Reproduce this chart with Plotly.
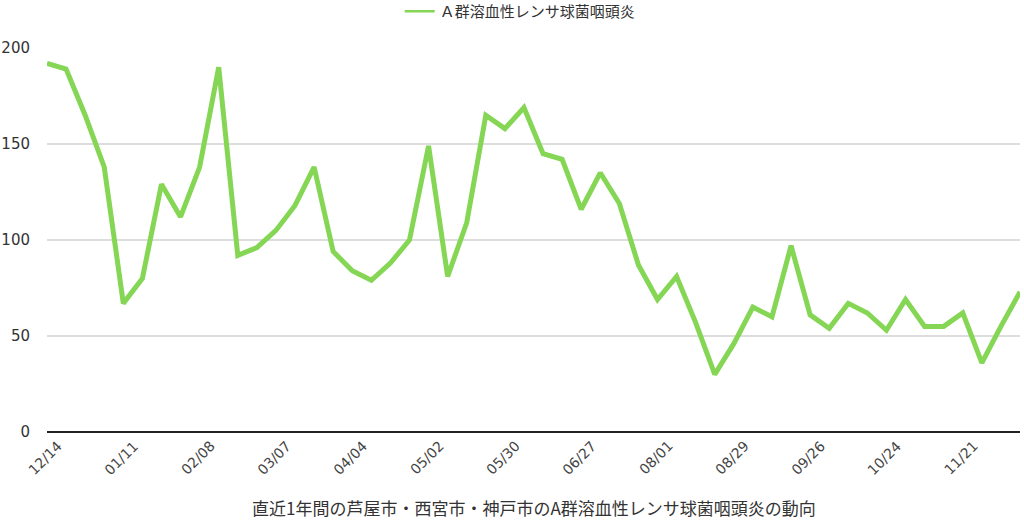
import plotly.graph_objects as go

weeks = ["12/14", "12/21", "12/28", "01/04", "01/11", "01/18", "01/25", "02/01",
         "02/08", "02/15", "02/22", "03/01", "03/07", "03/14", "03/21", "03/28",
         "04/04", "04/11", "04/18", "04/25", "05/02", "05/09", "05/16", "05/23",
         "05/30", "06/06", "06/13", "06/20", "06/27", "07/04", "07/11", "07/18",
         "08/01", "08/08", "08/15", "08/22", "08/29", "09/05", "09/12", "09/19",
         "09/26", "10/03", "10/10", "10/17", "10/24", "10/31", "11/07", "11/14",
         "11/21", "11/28", "12/05", "12/12"]

cases = [192, 189, 165, 138, 67, 80, 129, 112, 138, 190, 92, 96, 105, 118, 138, 94,
         84, 79, 88, 100, 149, 81, 109, 165, 158, 169, 145, 142, 116, 135, 119, 87,
         69, 81, 57, 30, 46, 65, 60, 97, 61, 54, 67, 62, 53, 69, 55, 55,
         62, 36, 55, 73]

series_name = "Ａ群溶血性レンサ球菌咽頭炎"
x_title = "直近1年間の芦屋市・西宮市・神戸市のA群溶血性レンサ球菌咽頭炎の動向"
tick_labels = weeks[::4]
y_ticks = [0, 50, 100, 150, 200]

JP = "Noto Sans CJK JP, Noto Sans, sans-serif"
NUM = "DejaVu Sans, sans-serif"
GREEN = "#84d654"

fig = go.Figure()
fig.add_trace(go.Scatter(
    x=weeks, y=cases, mode="lines", name=series_name, showlegend=False,
    line=dict(color=GREEN, width=5),
))
# legend entry only (thin sample line like the reference)
fig.add_trace(go.Scatter(
    x=[None], y=[None], mode="lines", name=series_name, showlegend=True,
    line=dict(color=GREEN, width=2.5),
))

annotations = []
for lab in tick_labels:
    annotations.append(dict(
        x=lab, xref="x", y=0, yref="paper", text=lab, showarrow=False,
        textangle=-45, xanchor="center", yanchor="middle", yshift=-26, xshift=-2,
        font=dict(family=NUM, size=14, color="#444444"),
    ))
annotations.append(dict(
    x=0.5, xref="paper", y=0, yref="paper", text=x_title, showarrow=False,
    xanchor="center", yanchor="middle", yshift=-75,
    font=dict(family=JP, size=17, color="#333333"),
))

fig.update_layout(
    width=1024, height=526,
    margin=dict(l=47, r=4, t=48, b=94, autoexpand=False),
    paper_bgcolor="white", plot_bgcolor="white",
    font=dict(family=JP, color="#333333"),
    showlegend=True,
    legend=dict(orientation="h", xref="container", x=0.508, xanchor="center",
                y=0.978, yanchor="middle", yref="container",
                font=dict(family=JP, size=15, color="#333333"),
                itemwidth=30, bgcolor="rgba(0,0,0,0)"),
    annotations=annotations,
    xaxis=dict(
        type="category", categoryorder="array", categoryarray=weeks,
        range=[0, len(weeks) - 1], automargin=False,
        showticklabels=False,
        showgrid=False, showline=False, ticks="",
    ),
    yaxis=dict(
        range=[0, 200], tickvals=y_ticks, automargin=False,
        tickfont=dict(family=NUM, size=15, color="#333333"),
        showgrid=True, gridcolor="#dddddd", gridwidth=1.5,
        zeroline=True, zerolinecolor="#222222", zerolinewidth=1.5,
        showline=False, ticks="", ticklabelstandoff=16,
    ),
)

fig.write_html("out.html", config={"displayModeBar": False},
               post_script="document.body.style.margin='0';document.body.style.overflow='hidden';")
